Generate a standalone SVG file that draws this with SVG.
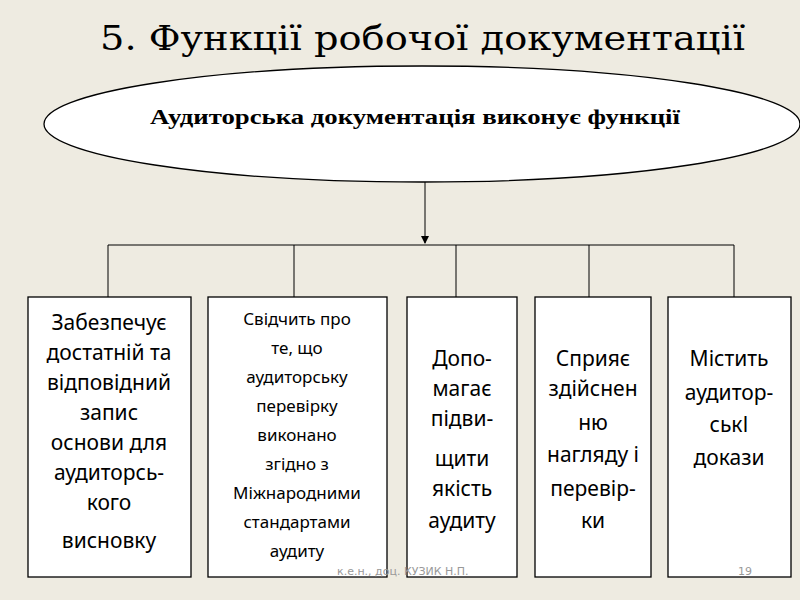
<svg xmlns="http://www.w3.org/2000/svg" width="800" height="600" viewBox="0 0 800 600">
<style>
.box{fill:#fff;stroke:#000;stroke-width:1.3}
.t{font-family:"Noto Sans","Open Sans","DejaVu Sans",sans-serif;font-size:21px;fill:#000;text-anchor:middle}
.s{font-size:17px}
.c{stroke:#000;stroke-width:1;fill:none}
</style>
<defs><marker id="a" markerWidth="8" markerHeight="8" refX="7" refY="4" orient="auto" markerUnits="userSpaceOnUse"><path d="M0,0L8,4L0,8z"/></marker></defs>
<rect width="800" height="600" fill="#eeebe1"/>
<text x="100" y="50" font-family="'DejaVu Serif','Liberation Serif',serif" font-size="34" textLength="645" lengthAdjust="spacingAndGlyphs" fill="#000">5. Функції робочої документації</text>
<g id="root"><ellipse cx="422" cy="124" rx="378" ry="58" fill="#fff" stroke="#000" stroke-width="1.3"/>
<text x="150" y="124" font-family="'Liberation Serif',serif" font-size="22" font-weight="bold" textLength="530" lengthAdjust="spacingAndGlyphs">Аудиторська документація виконує функції</text></g>
<g id="connectors">
<path class="c" d="M425,182V243" marker-end="url(#a)"/>
<path class="c" d="M108,245H734M108,245V297M294,245V297M456,245V297M589,245V297M734,245V297"/>
</g>
<g id="n1"><rect class="box" x="28" y="297" width="163" height="280"/>
<text class="t"><tspan x="109" y="330">Забезпечує</tspan><tspan x="109" y="360">достатній та</tspan><tspan x="109" y="390">відповідний</tspan><tspan x="109" y="420">запис</tspan><tspan x="109" y="450">основи для</tspan><tspan x="109" y="480">аудиторсь-</tspan><tspan x="109" y="510">кого</tspan><tspan x="109" y="548">висновку</tspan></text></g>
<g id="n2"><rect class="box" x="208" y="297" width="179" height="280"/>
<text class="t s"><tspan x="297" y="325">Свідчить про</tspan><tspan x="297" y="354">те, що</tspan><tspan x="297" y="383">аудиторську</tspan><tspan x="297" y="412">перевірку</tspan><tspan x="297" y="441">виконано</tspan><tspan x="297" y="470">згідно з</tspan><tspan x="297" y="499">Міжнародними</tspan><tspan x="297" y="528">стандартами</tspan><tspan x="297" y="557">аудиту</tspan></text></g>
<g id="n3"><rect class="box" x="407" y="297" width="110" height="280"/>
<text class="t"><tspan x="462" y="366">Допо-</tspan><tspan x="462" y="396">магає</tspan><tspan x="462" y="426">підви-</tspan><tspan x="462" y="466">щити</tspan><tspan x="462" y="496">якість</tspan><tspan x="462" y="528">аудиту</tspan></text></g>
<g id="n4"><rect class="box" x="535" y="297" width="116" height="280"/>
<text class="t"><tspan x="593" y="366">Сприяє</tspan><tspan x="593" y="396">здійснен</tspan><tspan x="593" y="430">ню</tspan><tspan x="593" y="462">нагляду і</tspan><tspan x="593" y="496">перевір-</tspan><tspan x="593" y="528">ки</tspan></text></g>
<g id="n5"><rect class="box" x="668" y="297" width="123" height="280"/>
<text class="t"><tspan x="729" y="366">Містить</tspan><tspan x="729" y="400">аудитор-</tspan><tspan x="729" y="432">ськІ</tspan><tspan x="729" y="465">докази</tspan></text></g>
<text x="337" y="575" font-family="'DejaVu Sans',sans-serif" font-size="11" fill="#999">к.е.н., доц. КУЗИК  Н.П.</text>
<text x="745" y="575" font-family="'DejaVu Sans',sans-serif" font-size="11" fill="#999" text-anchor="middle">19</text>
</svg>
